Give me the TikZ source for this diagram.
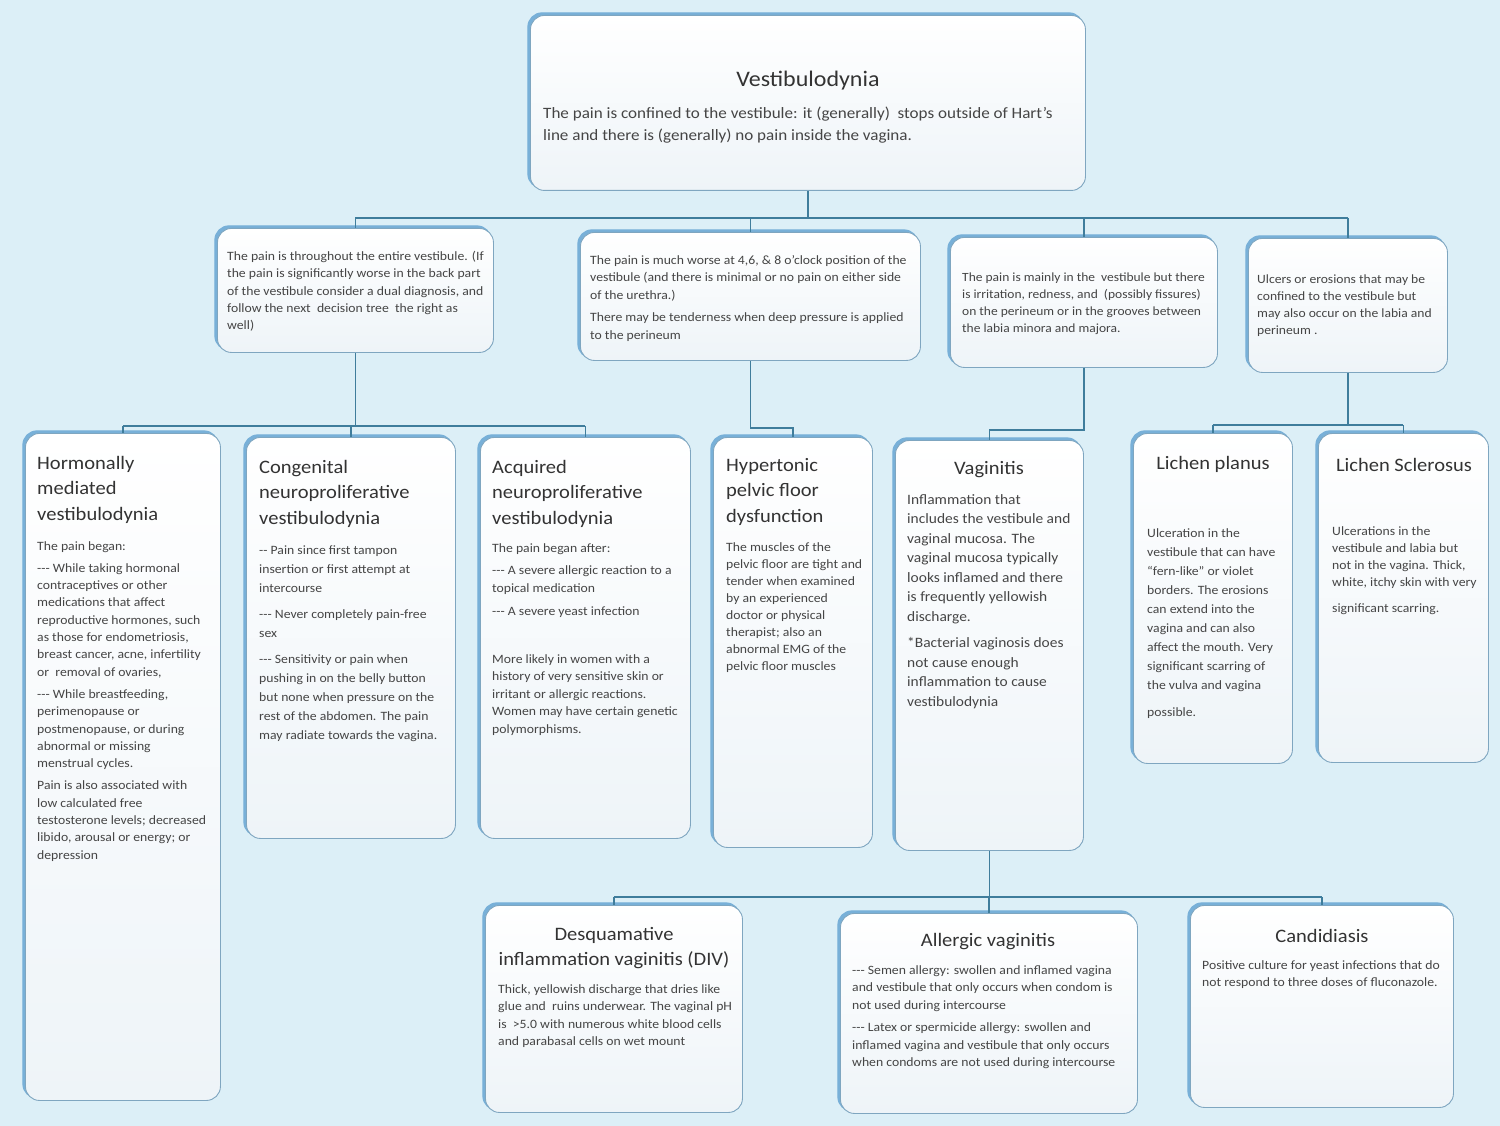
\documentclass[tikz,border=0pt]{standalone}
\usepackage{fontspec}
\setmainfont[FakeStretch=1.08]{Carlito}
\usetikzlibrary{shadows}
\definecolor{bg}{HTML}{DCEFF7}
\definecolor{boxedge}{HTML}{7FA6C0}
\definecolor{boxbot}{HTML}{EEF4F8}
\definecolor{shadowc}{HTML}{78B0D8}
\definecolor{linec}{HTML}{3F7D9C}
\definecolor{titc}{HTML}{333333}
\definecolor{txtc}{HTML}{454545}
\begin{document}
\begin{tikzpicture}[x=1pt,y=-1pt,
  box/.style={rectangle, rounded corners=14pt, draw=boxedge, line width=0.9pt,
    top color=white, bottom color=boxbot, inner sep=0pt, anchor=north west,
    copy shadow={shadow xshift=-2.5pt, shadow yshift=2.5pt, draw=shadowc, fill=shadowc, line width=1.2pt}},
  txt/.style={inner sep=0pt, anchor=north west, align=left, text=txtc},
  small/.style={txt, font=\fontsize{12.7}{17.3}\selectfont},
  ttl/.style={inner sep=0pt, align=left, text=titc, font=\fontsize{19}{25.5}\selectfont},
  conn/.style={draw=linec, line width=1.3pt}]
\fill[bg] (0,0) rectangle (1500,1126);
\useasboundingbox (0,0) rectangle (1500,1126);

% boxes
\node[box, minimum width=555pt, minimum height=175pt] (top) at (530,15) {};
\node[box, minimum width=276pt, minimum height=124pt] (A) at (217,228) {};
\node[box, minimum width=340pt, minimum height=128pt] (B) at (580,232) {};
\node[box, minimum width=267pt, minimum height=130pt] (C) at (950,237) {};
\node[box, minimum width=199pt, minimum height=134pt] (D) at (1248,238) {};
\node[box, minimum width=195pt, minimum height=667pt] (H) at (25,433) {};
\node[box, minimum width=209pt, minimum height=401pt] (Cg) at (246,437) {};
\node[box, minimum width=210pt, minimum height=401pt] (Aq) at (480,437) {};
\node[box, minimum width=159pt, minimum height=410pt] (Hy) at (713,437) {};
\node[box, minimum width=188pt, minimum height=410pt] (Vg) at (895,440) {};
\node[box, minimum width=159pt, minimum height=330pt] (LP) at (1133,433) {};
\node[box, minimum width=170pt, minimum height=329pt] (LS) at (1318,433) {};
\node[box, minimum width=257pt, minimum height=207pt] (DIV) at (485,905) {};
\node[box, minimum width=297pt, minimum height=200pt] (AV) at (840,913) {};
\node[box, minimum width=263pt, minimum height=202pt] (Cd) at (1190,905) {};

% connectors
\coordinate (bus1) at (0,218);
\coordinate (bus2) at (0,426);
\coordinate (bus3) at (0,428);
\coordinate (bus4) at (0,430);
\coordinate (bus5) at (0,425);
\coordinate (bus6) at (0,897);
\draw[conn] (top.south) -- (top.south |- bus1);
\draw[conn] (A.north |- bus1) -- (D.north |- bus1);
\draw[conn] (A.north |- bus1) -- (A.north);
\draw[conn] (B.north |- bus1) -- (B.north);
\draw[conn] (C.north |- bus1) -- (C.north);
\draw[conn] (D.north |- bus1) -- (D.north);
\draw[conn] (A.south) -- (A.south |- bus2);
\draw[conn] (H.north |- bus2) -- (Aq.north |- bus2);
\draw[conn] (H.north |- bus2) -- (H.north);
\draw[conn] (Cg.north |- bus2) -- (Cg.north);
\draw[conn] (Aq.north |- bus2) -- (Aq.north);
\draw[conn] (B.south) -- (B.south |- bus3) -| (Hy.north);
\draw[conn] (C.south) -- (C.south |- bus4) -| (Vg.north);
\draw[conn] (D.south) -- (D.south |- bus5);
\draw[conn] (LP.north |- bus5) -- (LS.north |- bus5);
\draw[conn] (LP.north |- bus5) -- (LP.north);
\draw[conn] (LS.north |- bus5) -- (LS.north);
\draw[conn] (Vg.south) -- (Vg.south |- bus6);
\draw[conn] (DIV.north |- bus6) -- (Cd.north |- bus6);
\draw[conn] (DIV.north |- bus6) -- (DIV.north);
\draw[conn] (AV.north |- bus6) -- (AV.north);
\draw[conn] (Cd.north |- bus6) -- (Cd.north);

% texts
\node[ttl, font=\fontsize{22.2}{26}\selectfont] (tTop) at (808,81) {Vestibulodynia};
\node[txt, font=\fontsize{15.8}{22}\selectfont] (bTop) at (543,107) {The pain is confined to the vestibule: it (generally)\ \ stops outside of Hart’s\\
line and there is (generally) no pain inside the vagina.};

\node[small] (bA) at (227,251) {The pain is throughout the entire vestibule. (If\\
the pain is significantly worse in the back part\\
of the vestibule consider a dual diagnosis, and\\
follow the next\ \ decision tree\ \ the right as\\
well)};

\node[small, font=\fontsize{12.7}{17.5}\selectfont] (bB) at (590,255) {The pain is much worse at 4,6, \& 8 o’clock position of the\\
vestibule (and there is minimal or no pain on either side\\
of the urethra.)\\[5pt]
There may be tenderness when deep pressure is applied\\
to the perineum};

\node[small, font=\fontsize{12.5}{17}\selectfont] (bC) at (962,273) {The pain is mainly in the\ \ vestibule but there\\
is irritation, redness, and\ \ (possibly fissures)\\
on the perineum or in the grooves between\\
the labia minora and majora.};

\node[small, font=\fontsize{12.6}{17}\selectfont] (bD) at (1257,275) {Ulcers or erosions that may be\\
confined to the vestibule but\\
may also occur on the labia and\\
perineum .};

\node[ttl, anchor=north west] (tH) at (37,456) {Hormonally\\ mediated\\ vestibulodynia};
\node[small] (bH) at (37,541) {The pain began:\\[5pt]
-{}-{}- While taking hormonal\\
contraceptives or other\\
medications that affect\\
reproductive hormones, such\\
as those for endometriosis,\\
breast cancer, acne, infertility\\
or\ \ removal of ovaries,\\[5pt]
-{}-{}- While breastfeeding,\\
perimenopause or\\
postmenopause, or during\\
abnormal or missing\\
menstrual cycles.\\[5pt]
Pain is also associated with\\
low calculated free\\
testosterone levels; decreased\\
libido, arousal or energy; or\\
depression};

\node[ttl, anchor=north west] (tCg) at (259,460) {Congenital\\ neuroproliferative\\ vestibulodynia};
\node[small, font=\fontsize{12.7}{19}\selectfont] (bCg) at (259,546) {-{}- Pain since first tampon\\
insertion or first attempt at\\
intercourse\\[7pt]
-{}-{}- Never completely pain-free\\
sex\\[7pt]
-{}-{}- Sensitivity or pain when\\
pushing in on the belly button\\
but none when pressure on the\\
rest of the abdomen. The pain\\
may radiate towards the vagina.};

\node[ttl, anchor=north west] (tAq) at (492,460) {Acquired\\ neuroproliferative\\ vestibulodynia};
\node[small, font=\fontsize{12.7}{17.5}\selectfont] (bAq) at (492,543) {The pain began after:\\[5pt]
-{}-{}- A severe allergic reaction to a\\
topical medication\\[6pt]
-{}-{}- A severe yeast infection\\[30pt]
More likely in women with a\\
history of very sensitive skin or\\
irritant or allergic reactions.\\
Women may have certain genetic\\
polymorphisms.};

\node[ttl, anchor=north west] (tHy) at (726,458) {Hypertonic\\ pelvic floor\\ dysfunction};
\node[small, font=\fontsize{12.7}{17}\selectfont] (bHy) at (726,542) {The muscles of the\\
pelvic floor are tight and\\
tender when examined\\
by an experienced\\
doctor or physical\\
therapist; also an\\
abnormal EMG of the\\
pelvic floor muscles};

\node[ttl] (tVg) at (989,470) {Vaginitis};
\node[txt, font=\fontsize{14.3}{19.5}\selectfont] (bVg) at (907,494) {Inflammation that\\
includes the vestibule and\\
vaginal mucosa. The\\
vaginal mucosa typically\\
looks inflamed and there\\
is frequently yellowish\\
discharge.\\[7pt]
*Bacterial vaginosis does\\
not cause enough\\
inflammation to cause\\
vestibulodynia};

\node[ttl] (tLP) at (1213,464) {Lichen planus};
\node[small, font=\fontsize{12.7}{19}\selectfont] (bLP) at (1147,528) {Ulceration in the\\
vestibule that can have\\
“fern-like” or violet\\
borders. The erosions\\
can extend into the\\
vagina and can also\\
affect the mouth. Very\\
significant scarring of\\
the vulva and vagina\\[8pt]
possible.};

\node[ttl] (tLS) at (1404,465) {Lichen Sclerosus};
\node[small, font=\fontsize{12.7}{17}\selectfont] (bLS) at (1332,526) {Ulcerations in the\\
vestibule and labia but\\
not in the vagina. Thick,\\
white, itchy skin with very\\[9pt]
significant scarring.};

\node[ttl, align=center, font=\fontsize{19}{25}\selectfont] (tDIV) at (614,948) {Desquamative\\ inflammation vaginitis (DIV)};
\node[small, font=\fontsize{12.7}{17.5}\selectfont] (bDIV) at (498,984) {Thick, yellowish discharge that dries like\\
glue and\ \ ruins underwear. The vaginal pH\\
is\ \ >5.0 with numerous white blood cells\\
and parabasal cells on wet mount};

\node[ttl] (tAV) at (988,942) {Allergic vaginitis};
\node[small, font=\fontsize{12.7}{17.5}\selectfont] (bAV) at (852,965) {-{}-{}- Semen allergy: swollen and inflamed vagina\\
and vestibule that only occurs when condom is\\
not used during intercourse\\[5pt]
-{}-{}- Latex or spermicide allergy: swollen and\\
inflamed vagina and vestibule that only occurs\\
when condoms are not used during intercourse};

\node[ttl] (tCd) at (1322,936) {Candidiasis};
\node[small, font=\fontsize{12.7}{17.5}\selectfont] (bCd) at (1202,960) {Positive culture for yeast infections that do\\
not respond to three doses of fluconazole.};
\end{tikzpicture}
\end{document}
